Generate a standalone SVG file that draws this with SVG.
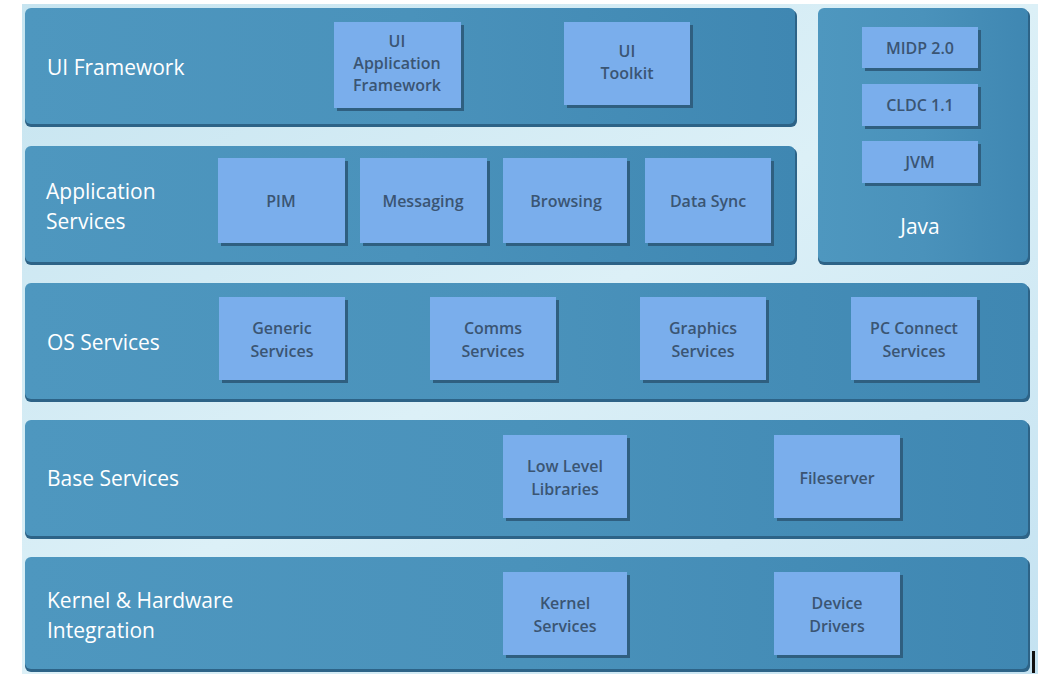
<svg xmlns="http://www.w3.org/2000/svg" width="1038" height="674" viewBox="0 0 1038 674">
<defs>
<linearGradient id="bg" x1="0" y1="0" x2="1" y2="1">
<stop offset="0" stop-color="#c6e4f0"/>
<stop offset="0.5" stop-color="#dcf0f7"/>
<stop offset="1" stop-color="#c4e2f1"/>
</linearGradient>
<linearGradient id="panel" x1="0" y1="0" x2="1" y2="0">
<stop offset="0" stop-color="#4e97bf"/>
<stop offset="0.5" stop-color="#4a92bb"/>
<stop offset="1" stop-color="#3f87b2"/>
</linearGradient>
<style>
.pshadow{fill:#2d6387}
.panel{fill:url(#panel)}
.bshadow{fill:#2f5f80}
.box{fill:#7aaeec}
.plabel{font-family:"Open Sans","Noto Sans",sans-serif;font-size:21px;font-weight:400;fill:#ffffff}
.blabel{font-family:"Open Sans","Noto Sans",sans-serif;font-size:16px;font-weight:600;fill:#3a5573;text-anchor:middle}
</style>
</defs>
<rect x="0" y="0" width="1038" height="674" fill="#ffffff"/>
<rect x="22" y="4" width="1016" height="670" fill="url(#bg)"/>

<g id="ui-framework">
<rect class="pshadow" x="25" y="10" width="772" height="117" rx="6"/>
<rect class="panel" x="25" y="8" width="770" height="116" rx="6"/>
<text class="plabel" x="47" y="75">UI Framework</text>
</g>
<g id="app-services">
<rect class="pshadow" x="25" y="148" width="772" height="117" rx="6"/>
<rect class="panel" x="25" y="146" width="770" height="116" rx="6"/>
<text class="plabel" x="46" y="199">Application</text>
<text class="plabel" x="46" y="229">Services</text>
</g>
<g id="java">
<rect class="pshadow" x="818" y="10" width="212" height="255" rx="6"/>
<rect class="panel" x="818" y="8" width="210" height="254" rx="6"/>
<text class="plabel" x="920" y="234" text-anchor="middle">Java</text>
</g>
<g id="os-services">
<rect class="pshadow" x="25" y="285" width="1005" height="117" rx="6"/>
<rect class="panel" x="25" y="283" width="1003" height="116" rx="6"/>
<text class="plabel" x="47" y="350">OS Services</text>
</g>
<g id="base-services">
<rect class="pshadow" x="25" y="422" width="1005" height="117" rx="6"/>
<rect class="panel" x="25" y="420" width="1003" height="116" rx="6"/>
<text class="plabel" x="47" y="486">Base Services</text>
</g>
<g id="kernel">
<rect class="pshadow" x="25" y="559" width="1005" height="113" rx="6"/>
<rect class="panel" x="25" y="557" width="1003" height="112" rx="6"/>
<text class="plabel" x="47" y="608">Kernel &amp; Hardware</text>
<text class="plabel" x="47" y="638">Integration</text>
</g>

<g id="ui-app-framework">
<rect class="bshadow" x="337" y="25" width="127" height="86"/>
<rect class="box" x="334" y="22" width="127" height="86"/>
<text class="blabel" x="397" y="47">UI</text>
<text class="blabel" x="397" y="69">Application</text>
<text class="blabel" x="397" y="91">Framework</text>
</g>
<g id="ui-toolkit">
<rect class="bshadow" x="567" y="25" width="126" height="83"/>
<rect class="box" x="564" y="22" width="126" height="83"/>
<text class="blabel" x="627" y="57">UI</text>
<text class="blabel" x="627" y="79">Toolkit</text>
</g>
<g id="pim">
<rect class="bshadow" x="221" y="161" width="127" height="85"/>
<rect class="box" x="218" y="158" width="127" height="85"/>
<text class="blabel" x="281" y="207">PIM</text>
</g>
<g id="messaging">
<rect class="bshadow" x="363" y="161" width="127" height="85"/>
<rect class="box" x="360" y="158" width="127" height="85"/>
<text class="blabel" x="423" y="207">Messaging</text>
</g>
<g id="browsing">
<rect class="bshadow" x="506" y="161" width="124" height="85"/>
<rect class="box" x="503" y="158" width="124" height="85"/>
<text class="blabel" x="566" y="207">Browsing</text>
</g>
<g id="data-sync">
<rect class="bshadow" x="648" y="161" width="126" height="85"/>
<rect class="box" x="645" y="158" width="126" height="85"/>
<text class="blabel" x="708" y="207">Data Sync</text>
</g>
<g id="midp">
<rect class="bshadow" x="865" y="30" width="116" height="41"/>
<rect class="box" x="862" y="27" width="116" height="41"/>
<text class="blabel" x="920" y="54">MIDP 2.0</text>
</g>
<g id="cldc">
<rect class="bshadow" x="865" y="87" width="116" height="42"/>
<rect class="box" x="862" y="84" width="116" height="42"/>
<text class="blabel" x="920" y="111">CLDC 1.1</text>
</g>
<g id="jvm">
<rect class="bshadow" x="865" y="144" width="116" height="42"/>
<rect class="box" x="862" y="141" width="116" height="42"/>
<text class="blabel" x="920" y="168">JVM</text>
</g>
<g id="generic-services">
<rect class="bshadow" x="222" y="300" width="126" height="83"/>
<rect class="box" x="219" y="297" width="126" height="83"/>
<text class="blabel" x="282" y="334">Generic</text>
<text class="blabel" x="282" y="357">Services</text>
</g>
<g id="comms-services">
<rect class="bshadow" x="433" y="300" width="126" height="83"/>
<rect class="box" x="430" y="297" width="126" height="83"/>
<text class="blabel" x="493" y="334">Comms</text>
<text class="blabel" x="493" y="357">Services</text>
</g>
<g id="graphics-services">
<rect class="bshadow" x="643" y="300" width="126" height="83"/>
<rect class="box" x="640" y="297" width="126" height="83"/>
<text class="blabel" x="703" y="334">Graphics</text>
<text class="blabel" x="703" y="357">Services</text>
</g>
<g id="pc-connect">
<rect class="bshadow" x="854" y="300" width="126" height="83"/>
<rect class="box" x="851" y="297" width="126" height="83"/>
<text class="blabel" x="914" y="334">PC Connect</text>
<text class="blabel" x="914" y="357">Services</text>
</g>
<g id="low-level-libraries">
<rect class="bshadow" x="506" y="438" width="124" height="83"/>
<rect class="box" x="503" y="435" width="124" height="83"/>
<text class="blabel" x="565" y="472">Low Level</text>
<text class="blabel" x="565" y="495">Libraries</text>
</g>
<g id="fileserver">
<rect class="bshadow" x="777" y="438" width="126" height="83"/>
<rect class="box" x="774" y="435" width="126" height="83"/>
<text class="blabel" x="837" y="484">Fileserver</text>
</g>
<g id="kernel-services">
<rect class="bshadow" x="506" y="575" width="124" height="83"/>
<rect class="box" x="503" y="572" width="124" height="83"/>
<text class="blabel" x="565" y="609">Kernel</text>
<text class="blabel" x="565" y="632">Services</text>
</g>
<g id="device-drivers">
<rect class="bshadow" x="777" y="575" width="126" height="83"/>
<rect class="box" x="774" y="572" width="126" height="83"/>
<text class="blabel" x="837" y="609">Device</text>
<text class="blabel" x="837" y="632">Drivers</text>
</g>
<g id="connectors"></g>
<rect x="1032" y="651" width="3" height="22" fill="#111111"/>
</svg>
